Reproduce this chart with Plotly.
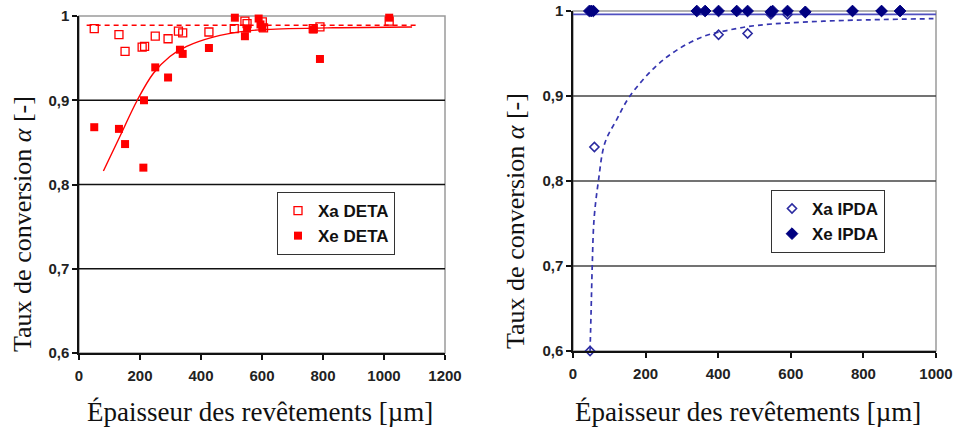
import plotly.graph_objects as go

# ---------------- data ----------------
# Left chart (DETA)
xa_deta_x = [50, 131, 151, 207, 215, 250, 292, 326, 340, 426, 509, 544, 551, 601, 605, 768, 790, 1017]
xa_deta_y = [0.985, 0.978, 0.958, 0.963, 0.964, 0.976, 0.973, 0.982, 0.980, 0.981, 0.985, 0.994, 0.991, 0.993, 0.986, 0.985, 0.987, 0.994]

xe_deta_x = [50, 131, 151, 211, 213, 250, 292, 331, 340, 426, 511, 544, 551, 589, 595, 601, 768, 790, 1017]
xe_deta_y = [0.868, 0.866, 0.848, 0.820, 0.900, 0.939, 0.927, 0.960, 0.955, 0.962, 0.998, 0.976, 0.985, 0.997, 0.990, 0.986, 0.984, 0.949, 0.998]

xe_deta_fit_x = [80, 134, 191, 244, 298, 353, 440, 544, 615, 834, 1092]
xe_deta_fit_y = [0.816, 0.857, 0.900, 0.932, 0.952, 0.964, 0.975, 0.982, 0.984, 0.986, 0.987]

xa_deta_fit_x = [25, 1110]
xa_deta_fit_y = [0.989, 0.989]

# Right chart (IPDA)
xa_ipda_x = [47, 59, 401, 481, 545, 591, 640, 770, 850, 901]
xa_ipda_y = [0.600, 0.840, 0.972, 0.9735, 0.996, 0.996, 0.998, 1.0, 1.0, 1.0]

xe_ipda_x = [45, 50, 56, 341, 364, 401, 451, 481, 545, 550, 591, 640, 770, 850, 901]
xe_ipda_y = [1.0, 1.0, 1.0, 1.0, 1.0, 1.0, 1.0, 1.0, 0.999, 1.0, 1.0, 0.999, 1.0, 1.0, 1.0]

xa_ipda_fit_x = [47, 50, 53, 58, 70, 88, 120, 157, 226, 286, 359, 423, 506, 690, 993]
xa_ipda_fit_y = [0.600, 0.649, 0.700, 0.755, 0.800, 0.845, 0.872, 0.900, 0.934, 0.954, 0.970, 0.977, 0.983, 0.988, 0.991]

xe_ipda_fit_x = [0, 1000]
xe_ipda_fit_y = [0.996, 0.996]

y_tickvals = [0.6, 0.7, 0.8, 0.9, 1.0]
y_ticktext = ["0,6", "0,7", "0,8", "0,9", "1"]
grid_vals = [0.7, 0.8, 0.9]
x_left_ticks = [0, 200, 400, 600, 800, 1000, 1200]
x_right_ticks = [0, 200, 400, 600, 800, 1000]

y_title = "Taux de conversion <i>α</i> [-]"
x_title = "Épaisseur des revêtements [µm]"

# ---------------- figure ----------------
RED = "#ff0000"
NAVY = "#000080"
BLUE = "#3535b0"

fig = go.Figure()

# Left
fig.add_trace(go.Scatter(x=xa_deta_fit_x, y=xa_deta_fit_y, mode="lines",
                         line=dict(color=RED, width=1.6, dash="5px,4px"),
                         showlegend=False, xaxis="x", yaxis="y", hoverinfo="skip"))
fig.add_trace(go.Scatter(x=xe_deta_fit_x, y=xe_deta_fit_y, mode="lines",
                         line=dict(color=RED, width=1.4, shape="spline"),
                         showlegend=False, xaxis="x", yaxis="y", hoverinfo="skip"))
fig.add_trace(go.Scatter(x=xa_deta_x, y=xa_deta_y, mode="markers", name="Xa DETA",
                         marker=dict(symbol="square-open", size=8, color=RED, line=dict(width=1.3)),
                         xaxis="x", yaxis="y", legend="legend", cliponaxis=False))
fig.add_trace(go.Scatter(x=xe_deta_x, y=xe_deta_y, mode="markers", name="Xe DETA",
                         marker=dict(symbol="square", size=8, color=RED),
                         xaxis="x", yaxis="y", legend="legend", cliponaxis=False))

# Right
fig.add_trace(go.Scatter(x=xe_ipda_fit_x, y=xe_ipda_fit_y, mode="lines",
                         line=dict(color="#5050c0", width=1.6),
                         showlegend=False, xaxis="x2", yaxis="y2", hoverinfo="skip"))
fig.add_trace(go.Scatter(x=xa_ipda_fit_x, y=xa_ipda_fit_y, mode="lines",
                         line=dict(color=BLUE, width=1.7, dash="5px,4px", shape="spline"),
                         showlegend=False, xaxis="x2", yaxis="y2", hoverinfo="skip"))
fig.add_trace(go.Scatter(x=xa_ipda_x, y=xa_ipda_y, mode="markers", name="Xa IPDA",
                         marker=dict(symbol="diamond-open", size=7, color="#2a2aa0", line=dict(width=1.6)),
                         xaxis="x2", yaxis="y2", legend="legend2", cliponaxis=False))
fig.add_trace(go.Scatter(x=xe_ipda_x, y=xe_ipda_y, mode="markers", name="Xe IPDA",
                         marker=dict(symbol="diamond", size=9, color=NAVY, line=dict(width=1, color=NAVY)),
                         xaxis="x2", yaxis="y2", legend="legend2", cliponaxis=False))

W, H = 954, 430
L1, R1, T1, B1 = 79, 445, 16, 353
L2, R2, T2, B2 = 573, 936, 11, 351

tickfont = dict(family="Liberation Sans, Arial", size=15, color="#222222", weight="bold")

def xaxis(dom, rng, ticks, anchor):
    return dict(domain=[dom[0] / W, dom[1] / W], range=rng, tickvals=ticks,
                showgrid=False, zeroline=False, showline=True, linecolor="#111111", linewidth=1.5,
                ticks="outside", ticklen=5, tickwidth=1.5, tickcolor="#111111", automargin=False,
                tickfont=tickfont, anchor=anchor, ticklabelstandoff=3, fixedrange=True)

def yaxis(dom, anchor):
    return dict(domain=[(H - dom[1]) / H, (H - dom[0]) / H], range=[0.6, 1.0],
                tickvals=y_tickvals, ticktext=y_ticktext, automargin=False,
                showgrid=False, zeroline=False, showline=True, linecolor="#111111", linewidth=1.5,
                ticks="outside", ticklen=5, tickwidth=1.5, tickcolor="#111111",
                tickfont=tickfont, anchor=anchor, fixedrange=True)

shapes = []
# gray frame
for xr, yr in (("x", "y"), ("x2", "y2")):
    shapes.append(dict(type="rect", xref=f"{xr} domain", yref=f"{yr} domain", x0=0, x1=1, y0=0, y1=1,
                       line=dict(color="#9a9a9a", width=1.5), layer="below"))
# gridlines
for g in grid_vals:
    shapes.append(dict(type="line", xref="x domain", yref="y", x0=0, x1=1, y0=g, y1=g,
                       line=dict(color="#111111", width=1.3), layer="below"))
    shapes.append(dict(type="line", xref="x2 domain", yref="y2", x0=0, x1=1, y0=g, y1=g,
                       line=dict(color="#444444", width=1.3), layer="below"))

ytitlefont = dict(family="Liberation Serif, Times New Roman", size=26, color="#111111")
xtitlefont = dict(family="Liberation Serif, Times New Roman", size=27, color="#111111")
annotations = [
    dict(text=y_title, x=22 / W, y=(H - 224) / H, xref="paper", yref="paper", textangle=-90,
         showarrow=False, font=ytitlefont, xanchor="center", yanchor="middle"),
    dict(text=y_title, x=515 / W, y=(H - 221) / H, xref="paper", yref="paper", textangle=-90,
         showarrow=False, font=ytitlefont, xanchor="center", yanchor="middle"),
    dict(text=x_title, x=260 / W, y=(H - 412) / H, xref="paper", yref="paper",
         showarrow=False, font=xtitlefont, xanchor="center", yanchor="middle"),
    dict(text=x_title, x=748 / W, y=(H - 412) / H, xref="paper", yref="paper",
         showarrow=False, font=xtitlefont, xanchor="center", yanchor="middle"),
]

legfont = dict(family="Liberation Sans, Arial", size=17, color="#111111", weight="bold")

fig.update_layout(
    width=W, height=H, margin=dict(l=0, r=0, t=0, b=0, autoexpand=False),
    paper_bgcolor="white", plot_bgcolor="white",
    xaxis=xaxis((L1, R1), [0, 1200], x_left_ticks, "y"),
    yaxis=yaxis((T1, B1), "x"),
    xaxis2=xaxis((L2, R2), [0, 1000], x_right_ticks, "y2"),
    yaxis2=yaxis((T2, B2), "x2"),
    shapes=shapes, annotations=annotations,
    legend=dict(x=277 / W, y=(H - 192) / H, xanchor="left", yanchor="top",
                bordercolor="#333333", borderwidth=1, bgcolor="white", font=legfont,
                itemwidth=30, tracegroupgap=0),
    legend2=dict(x=771 / W, y=(H - 190) / H, xanchor="left", yanchor="top",
                 bordercolor="#333333", borderwidth=1, bgcolor="white", font=legfont,
                 itemwidth=30, tracegroupgap=0),
)

fig.write_html("out.html")
